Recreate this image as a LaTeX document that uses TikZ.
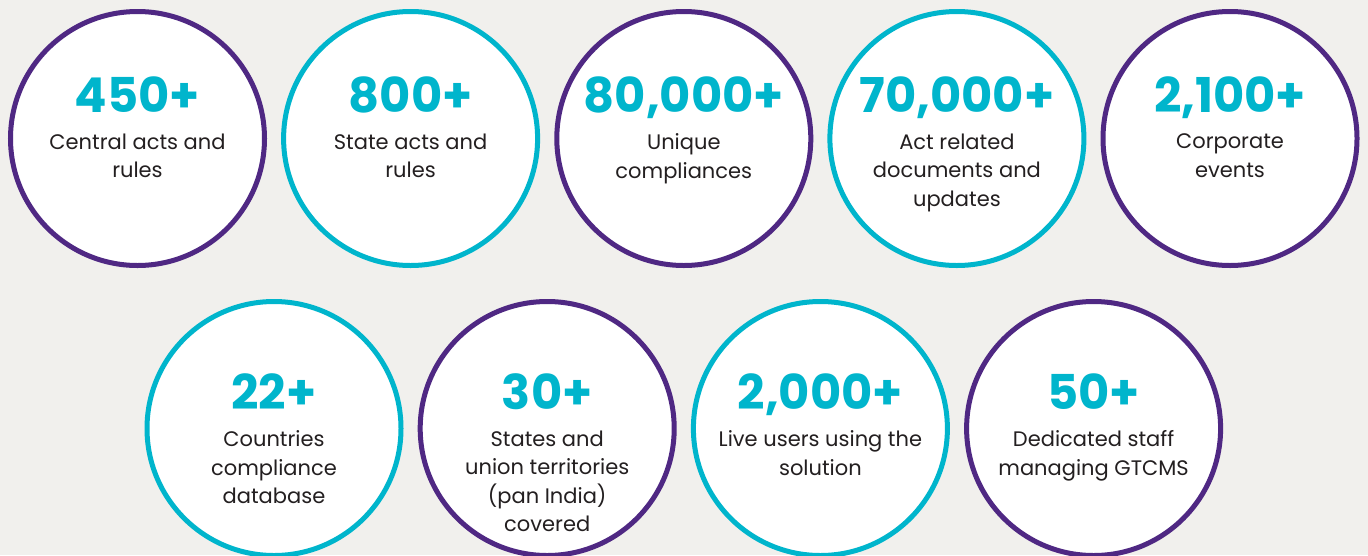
\documentclass[tikz,border=0pt]{standalone}
\usepackage{fontspec}
\setmainfont{Poppins}
\usetikzlibrary{positioning}
\definecolor{statpurple}{RGB}{79,40,131}
\definecolor{statteal}{RGB}{0,181,204}
\definecolor{backgr}{RGB}{241,240,237}
\definecolor{desctext}{RGB}{35,31,32}
\tikzstyle{stat} = [circle, fill=white, line width=5pt, minimum size=254pt, inner sep=0pt]
\tikzstyle{num} = [anchor=base, inner sep=0pt, text=statteal, font=\fontsize{48}{48}\selectfont\bfseries]
\tikzstyle{desc} = [anchor=north, inner sep=0pt, align=center, text=desctext, font=\fontsize{21}{28.5}\selectfont, execute at begin node=\strut]

\begin{document}
\begin{tikzpicture}[x=1pt, y=-1pt]
    \fill[backgr] (0,0) rectangle (1368,555);
    \useasboundingbox (0,0) rectangle (1368,555);

    \foreach \n/\x/\y/\s/\col/\val/\txt in {
        central/137.5/138.5/0/statpurple/{450+}/{Central acts and\\rules},
        state/410.6/138.5/0/statteal/{800+}/{State acts and\\rules},
        unique/683.8/138.5/0/statpurple/{80,000+}/{Unique\\compliances},
        docs/956.9/138.5/0/statteal/{70,000+}/{Act related\\documents and\\updates},
        events/1230/138.5/0/statpurple/{2,100+}/{Corporate\\events},
        countries/274/428.5/7/statteal/{22+}/{Countries\\compliance\\database},
        territories/547.2/428.5/7/statpurple/{30+}/{States and\\union territories\\(pan India)\\covered},
        users/820.4/428.5/7/statteal/{2,000+}/{Live users using the\\solution},
        staff/1093.6/428.5/7/statpurple/{50+}/{Dedicated staff\\managing GTCMS}}
    {
        \node[stat, draw=\col] (\n) at (\x,\y) {};
        \node[num] (\n-num) at ([yshift=26pt-\s pt]\n.center) {\val};
        \node[desc] (\n-desc) at ([yshift=5pt-\s pt]\n.center) {\txt};
    }
\end{tikzpicture}
\end{document}
